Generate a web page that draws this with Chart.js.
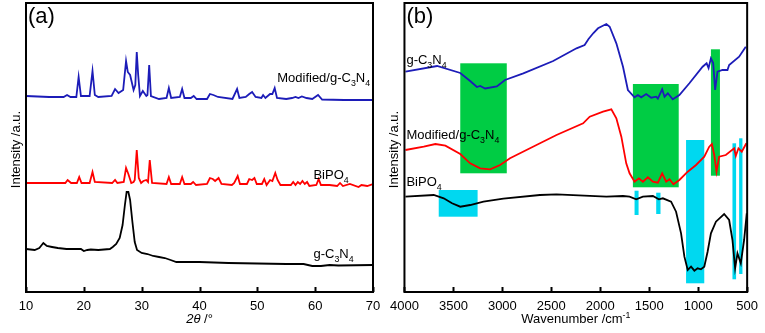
<!DOCTYPE html>
<html>
<head>
<meta charset="utf-8">
<script src="https://cdn.jsdelivr.net/npm/chart.js@4.4.1/dist/chart.umd.min.js"></script>
<style>
  body { margin: 0; background: #fff; }
  #wrap { position: relative; width: 765px; height: 333px; overflow: hidden; }
  canvas { position: absolute; top: 0; }
  #c1 { left: 0; }
  #c2 { left: 383px; }
</style>
</head>
<body>
<div id="wrap">
  <canvas id="c1" width="390" height="333"></canvas>
  <canvas id="c2" width="382" height="333"></canvas>
</div>
<script>
// (a) XRD, [2theta, intensity]
const xrdTicks = [10, 20, 30, 40, 50, 60, 70];
const xrdModified = [[10,196],[12,195.5],[14,195],[16.5,195],[17.1,197],[17.7,195],[18.7,195],[19.1,215],[19.5,196],[21,196],[21.5,221],[21.9,197],[22.5,195],[24.8,196],[25.4,203],[26,199],[26.8,202],[27.3,231],[27.6,220],[28,217],[28.6,202],[28.9,207],[29.15,240],[29.4,217],[29.7,196],[30.2,201],[30.8,196],[31,197],[31.3,227],[31.6,196],[33,193],[34.3,194],[34.7,204],[35.1,194],[36.6,195],[37,203],[37.4,194],[38.5,194],[39,196],[39.5,193],[41.3,193],[41.8,198],[42.4,197],[43.2,195],[45.7,193],[46.5,203],[46.9,194],[48,195],[48.6,198],[49.1,200],[49.7,195],[50.7,194],[51,197],[51.4,194],[52.2,198],[52.6,198],[53,204],[53.4,194],[55,193],[56,194],[56.6,195],[57.1,194],[57.7,195.5],[58.5,194],[59.5,193],[60.5,197],[61.2,192.5],[65,192],[70,192]];
const xrdBiPO4 = [[10,109],[12,109],[16.8,109],[17.2,112],[17.8,109],[18.8,109],[19.2,115],[19.6,109],[21,109],[21.5,120],[21.9,110],[24.9,109],[25.4,112],[25.8,109],[26.9,110],[27.3,124],[27.7,118],[28.2,109],[28.6,110],[28.8,112],[29.15,142],[29.5,114],[29.9,109],[30.3,111],[30.8,112],[31.1,110],[31.4,132],[31.8,109],[34.3,108],[34.7,115],[35.1,108],[36.6,108],[37,115],[37.4,108],[38.5,108],[38.9,110],[39.4,107],[41.3,108],[41.8,114],[42.3,113],[42.7,111],[43.3,114],[43.8,108],[45.6,107],[46,109],[46.6,116],[47,108],[48.2,108],[48.6,113],[49.1,112],[49.5,114],[49.9,108],[50.8,108],[51.2,113],[51.6,107],[52.2,112],[52.6,111],[53.1,119],[53.5,112],[54,107],[55.8,107],[56.2,110],[56.6,107],[57,110],[57.4,108],[57.8,111],[58.2,108],[58.6,110],[59,106],[60.2,107],[60.6,113],[61,107],[62.5,107],[63.8,106],[64.3,109],[64.8,106],[66,108],[67.5,105],[68,107],[69,106],[70,108]];
const xrdGC3N4 = [[10,43],[11.5,42],[12.3,44],[13,49],[13.6,46],[14.5,45],[15.5,44],[17,43],[19.5,43],[20,41],[20.6,42],[21.2,42.5],[22.5,42],[23.5,42.5],[24.5,43],[25,45],[25.6,48],[26.2,54],[26.7,67],[27.1,87],[27.4,100],[27.7,100],[28,92],[28.4,70],[28.8,50],[29.2,42],[30,39],[31,38],[32,36],[33,35],[34,34],[35,32],[36,30],[40,30],[45,29],[50,28.5],[55,28],[58,28],[59.5,26],[61,26],[62.5,27],[64,26.5],[70,27]];

// (b) FTIR, [wavenumber, intensity]
const ftirTicks = [4000, 3500, 3000, 2500, 2000, 1500, 1000, 500];
const ftirGC3N4 = [[3990,220.3],[3667,226],[3430,219],[3329,211],[3260,205],[3227,206],[3176,203.5],[3057,205.5],[2973,212],[2786,218.7],[2481,231],[2243,243.7],[2160,247],[2120,253],[2070,259],[2023,263.7],[1938,268],[1904,265.3],[1836,248.7],[1768,225.3],[1718,202],[1650,194.7],[1616,197],[1582,194.7],[1531,198],[1480,194.3],[1429,195.3],[1412,193.3],[1368,202.7],[1344,195.3],[1310,198.7],[1260,192.7],[1192,197],[1090,208.7],[955,225.3],[914,228.7],[894,224],[870,233.7],[847,229],[827,202],[803,220.3],[752,222],[701,222],[684,227],[582,235.3],[514,245.3]];
const ftirModified = [[3990,142],[3803,145.3],[3684,148],[3582,146.3],[3430,138],[3329,128.7],[3227,123.7],[3125,122.7],[3023,127],[2922,133.7],[2718,143.7],[2447,157],[2175,168.7],[2108,175.3],[1972,180.3],[1887,182.7],[1836,173.7],[1785,155.3],[1735,128.7],[1701,118.7],[1650,110.3],[1606,113.7],[1565,110.3],[1514,114.7],[1463,110.3],[1412,109.3],[1368,118.7],[1327,110.3],[1293,112.7],[1253,107.7],[1192,112],[1107,120.3],[1022,127],[938,135.3],[887,145.3],[860,148],[836,137],[813,120.3],[786,135.3],[718,137],[633,143.7],[616,136],[589,143.7],[555,140.3],[508,148.7]];
const ftirBiPO4 = [[3990,95.3],[3701,97],[3599,93.7],[3514,88.7],[3430,85.3],[3329,87],[3193,90.3],[2990,93.3],[2617,97],[2447,97.7],[1938,95.3],[1768,96],[1701,95.3],[1633,92.7],[1565,95.3],[1463,96],[1402,92.7],[1361,93.7],[1277,90.3],[1226,80.3],[1175,58.7],[1141,35.3],[1107,22],[1073,25.3],[1039,21.3],[1006,23.7],[972,22.7],[938,25.3],[904,40.3],[870,58.7],[819,70.3],[735,78],[684,72],[650,52],[623,23.7],[599,38.7],[565,28.7],[531,52],[504,78.7]];
// highlighted bands: [from, to, low, high]
const greenBands = [[3430,2955,118.7,228.7],[1667,1199,104.7,208],[870,778,116.3,242.7]];
const cyanBands = [[3650,3253,75.3,102],[1650,1609,77,101.3],[1429,1385,78,99.3],[1124,938,8.7,152],[650,613,12.7,148.7],[582,548,18,153.7]];

const FONT = "'Liberation Sans', Arial, sans-serif";
const pts = arr => arr.map(p => ({ x: p[0], y: p[1] }));

// text with sub/superscript and italic pieces
function drawRich(ctx, parts, x, y, size, align) {
  const fontFor = p => (p[1] === 'it' ? 'italic ' : '') + (p[1] === 'sub' || p[1] === 'sup' ? size * 0.68 : size) + 'px ' + FONT;
  let w = 0;
  parts.forEach(p => { ctx.font = fontFor(p); w += ctx.measureText(p[0]).width; });
  let cx = align === 'center' ? x - w / 2 : align === 'right' ? x - w : x;
  ctx.textBaseline = 'alphabetic';
  ctx.textAlign = 'left';
  ctx.fillStyle = '#000';
  parts.forEach(p => {
    ctx.font = fontFor(p);
    const dy = p[1] === 'sub' ? size * 0.3 : p[1] === 'sup' ? -size * 0.4 : 0;
    ctx.fillText(p[0], cx, y + dy);
    cx += ctx.measureText(p[0]).width;
  });
}

const gcn = [['g-C',''],['3','sub'],['N',''],['4','sub']];
const mod = [['Modified/g-C',''],['3','sub'],['N',''],['4','sub']];
const bip = [['BiPO',''],['4','sub']];

function framePlugin(ticks, letter, xTitle, labels) {
  return {
    id: 'frame',
    beforeDatasetsDraw(chart) {
      const o = chart.options.plugins.frame;
      if (!o || !o.bands) return;
      const { ctx, scales: { x, y } } = chart;
      ctx.save();
      o.bands.forEach(set => {
        ctx.fillStyle = set.color;
        set.list.forEach(b => {
          const x1 = x.getPixelForValue(b[0]), x2 = x.getPixelForValue(b[1]);
          const y1 = y.getPixelForValue(b[3]), y2 = y.getPixelForValue(b[2]);
          ctx.fillRect(Math.min(x1, x2), y1, Math.abs(x2 - x1), y2 - y1);
        });
      });
      ctx.restore();
    },
    afterDraw(chart) {
      const { ctx, chartArea: a, scales: { x, y } } = chart;
      ctx.save();
      ctx.strokeStyle = '#000';
      ctx.lineWidth = 2;
      ctx.strokeRect(a.left, a.top, a.right - a.left, a.bottom - a.top);
      ctx.beginPath();
      ticks.forEach(v => {
        const px = Math.round(x.getPixelForValue(v)) + 0.5;
        ctx.moveTo(px, a.bottom);
        ctx.lineTo(px, a.bottom - 5);
      });
      ctx.stroke();
      // panel letter
      ctx.fillStyle = '#000';
      ctx.font = '22px ' + FONT;
      ctx.textBaseline = 'middle';
      ctx.fillText(letter, a.left + 2, a.top + 14);
      // y title
      ctx.save();
      ctx.translate(a.left - 10, (a.top + a.bottom) / 2 + 2);
      ctx.rotate(-Math.PI / 2);
      ctx.font = '13px ' + FONT;
      ctx.textAlign = 'center';
      ctx.textBaseline = 'middle';
      ctx.fillText('Intensity /a.u.', 0, 0);
      ctx.restore();
      // x title
      drawRich(ctx, xTitle, (a.left + a.right) / 2, a.bottom + 31, 13, 'center');
      // series labels
      labels.forEach(l => drawRich(ctx, l.parts, x.getPixelForValue(l.x), y.getPixelForValue(l.y), 13, l.align));
      ctx.restore();
    }
  };
}

function makeOptions(xmin, xmax, reverse, ticks, pad, bands) {
  return {
    responsive: false,
    animation: false,
    layout: { padding: pad },
    plugins: { legend: { display: false }, tooltip: { enabled: false }, frame: { bands: bands } },
    elements: { point: { radius: 0 }, line: { borderWidth: 1.8, tension: 0 } },
    scales: {
      x: {
        type: 'linear', min: xmin, max: xmax, reverse: reverse,
        afterBuildTicks: s => { s.ticks = ticks.map(v => ({ value: v })); },
        afterFit: s => { s.height = 41; },
        grid: { display: false, drawTicks: false },
        border: { display: false },
        ticks: { autoSkip: false, maxRotation: 0, padding: 7, color: '#000', font: { family: FONT, size: 13 },
                 callback: v => String(v) }
      },
      y: { display: false, min: 0, max: 289 }
    }
  };
}

new Chart(document.getElementById('c1'), {
  type: 'line',
  data: {
    datasets: [
      { data: pts(xrdModified), borderColor: '#1c1cb8' },
      { data: pts(xrdBiPO4), borderColor: '#ff0000' },
      { data: pts(xrdGC3N4), borderColor: '#000000' }
    ]
  },
  options: makeOptions(10, 70, false, xrdTicks, { left: 26, right: 17, top: 3, bottom: 0 }, null),
  plugins: [framePlugin(xrdTicks, '(a)', [['2θ','it'],[' /°','']], [
    { parts: mod, x: 69.5, y: 210, align: 'right' },
    { parts: bip, x: 59.7, y: 113, align: 'left' },
    { parts: gcn, x: 59.7, y: 34, align: 'left' }
  ])]
});

new Chart(document.getElementById('c2'), {
  type: 'line',
  data: {
    datasets: [
      { data: pts(ftirGC3N4), borderColor: '#1c1cb8' },
      { data: pts(ftirModified), borderColor: '#ff0000' },
      { data: pts(ftirBiPO4), borderColor: '#000000' }
    ]
  },
  options: makeOptions(500, 4000, true, ftirTicks, { left: 21, right: 17, top: 3, bottom: 0 },
    [{ color: '#00cc44', list: greenBands }, { color: '#00d8f0', list: cyanBands }]),
  plugins: [framePlugin(ftirTicks, '(b)', [['Wavenumber /cm',''],['-1','sup']], [
    { parts: gcn, x: 3980, y: 228, align: 'left' },
    { parts: mod, x: 3980, y: 153, align: 'left' },
    { parts: bip, x: 3980, y: 106, align: 'left' }
  ])]
});
</script>
</body>
</html>
